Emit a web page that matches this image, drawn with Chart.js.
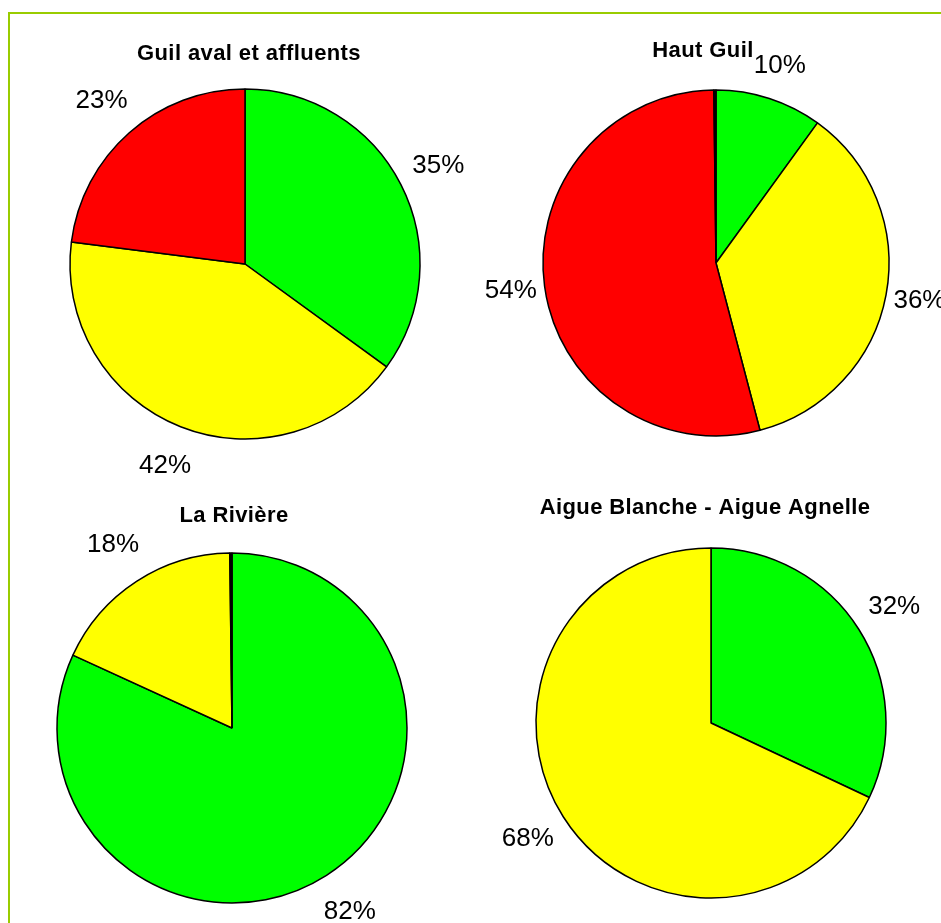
<!DOCTYPE html>
<html lang="fr">
<head>
<meta charset="UTF-8">
<title>Etat des cours d'eau</title>
<script src="https://cdn.jsdelivr.net/npm/chart.js"></script>
<style>
    body { margin: 0; background: #fff; overflow: hidden; width: 941px; height: 923px; position: relative; }
    #cadre { position: absolute; left: 8px; top: 12px; width: 1000px; height: 1000px;
             border-left: 2px solid #99cc00; border-top: 2px solid #99cc00; }
    canvas { position: absolute; left: 0; top: 0; }
</style>
</head>
<body>
<div id="cadre"></div>
<canvas id="c0" width="941" height="923"></canvas>
<canvas id="c1" width="941" height="923"></canvas>
<canvas id="c2" width="941" height="923"></canvas>
<canvas id="c3" width="941" height="923"></canvas>

<script>
    // données (en %)
    const titres = ["Guil aval et affluents", "Haut Guil", "La Rivière", "Aigue Blanche - Aigue Agnelle"];
    const categories = ["Bon", "Moyen", "Mauvais", "Non évalué"];
    const couleurs = ["#00ff00", "#ffff00", "#ff0000", "#000000"];
    const guilAval = [35, 42, 23, 0];
    const hautGuil = [10, 36, 54, 0.2];
    const laRiviere = [82, 18, 0, 0.2];
    const aigueBlanche = [32, 68, 0, 0];
    const series = [guilAval, hautGuil, laRiviere, aigueBlanche];

    // mise en page : centre, rayon, position du titre, écart des étiquettes
    const mise = [
        { cx: 245, cy: 264, r: 175, tx: 249, ty: 54, gap: 42 },
        { cx: 716, cy: 263, r: 173, tx: 703, ty: 51, gap: 34 },
        { cx: 232, cy: 728, r: 175, tx: 234, ty: 516, gap: 43 },
        { cx: 711, cy: 723, r: 175, tx: 705, ty: 508, gap: 42 }
    ];

    const BORD = 1.5;
    const W = 941, H = 923;

    const etiquettes = {
        id: 'etiquettes',
        afterDatasetsDraw(chart, args, opts) {
            const ctx = chart.ctx;
            const meta = chart.getDatasetMeta(0);
            const data = chart.data.datasets[0].data;
            ctx.save();
            ctx.fillStyle = '#000';
            ctx.textAlign = 'center';
            ctx.textBaseline = 'middle';
            ctx.font = '26px "Liberation Sans", Arial, sans-serif';
            meta.data.forEach((arc, i) => {
                if (data[i] < 1) return;
                const p = arc.getProps(['x', 'y', 'startAngle', 'endAngle', 'outerRadius'], true);
                const a = (p.startAngle + p.endAngle) / 2;
                const d = p.outerRadius + opts.gap;
                ctx.fillText(Math.round(data[i]) + '%', p.x + Math.cos(a) * d, p.y + Math.sin(a) * d);
            });
            ctx.font = 'bold 22px "Liberation Sans", Arial, sans-serif';
            ctx.letterSpacing = '0.4px';
            ctx.fillText(opts.titre, opts.tx, opts.ty);
            ctx.restore();
        }
    };

    series.forEach((valeurs, k) => {
        const m = mise[k];
        const demi = m.r + BORD / 2;
        new Chart(document.getElementById('c' + k), {
            type: 'pie',
            data: {
                labels: categories,
                datasets: [{
                    data: valeurs,
                    backgroundColor: couleurs,
                    borderColor: '#000',
                    borderWidth: BORD,
                    hoverOffset: 0
                }]
            },
            options: {
                responsive: false,
                animation: false,
                events: [],
                layout: {
                    padding: {
                        left: m.cx - demi,
                        right: W - (m.cx + demi),
                        top: m.cy - demi,
                        bottom: H - (m.cy + demi)
                    }
                },
                plugins: {
                    legend: { display: false },
                    tooltip: { enabled: false },
                    etiquettes: { titre: titres[k], tx: m.tx, ty: m.ty, gap: m.gap }
                }
            },
            plugins: [etiquettes]
        });
    });
</script>
</body>
</html>
